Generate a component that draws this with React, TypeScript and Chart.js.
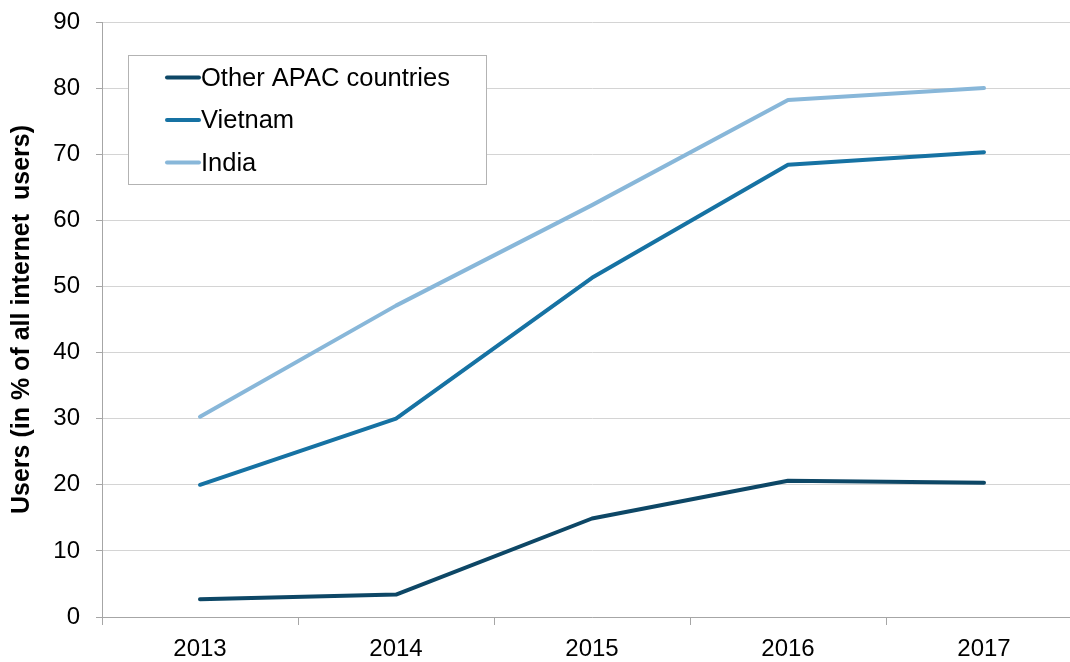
import React, { useEffect, useRef } from "react";
import { Chart, registerables } from "chart.js";

Chart.register(...registerables);

const categories = ["2013", "2014", "2015", "2016", "2017"];
const otherApac = [2.7, 3.4, 14.9, 20.6, 20.3];
const vietnam = [20.0, 30.0, 51.3, 68.4, 70.3];
const india = [30.3, 47.1, 62.3, 78.2, 80.0];
const seriesLabels = ["Other APAC countries", "Vietnam", "India"];
const seriesColors = ["#0d4766", "#1672a3", "#88b7d9"];
const yMin = 0;
const yMax = 90;
const yStep = 10;
const yTitle = "Users (in % of all internet  users)";

const FONT = "'Liberation Sans', Arial, Helvetica, sans-serif";

const boxLegend = {
  id: "boxLegend",
  afterDraw(chart: any) {
    const { ctx, chartArea } = chart;
    const x0 = chartArea.left + 26;
    const y0 = chartArea.top + 33;
    const w = 358;
    const h = 129;
    ctx.save();
    ctx.fillStyle = "#ffffff";
    ctx.fillRect(x0, y0, w, h);
    ctx.strokeStyle = "#b3b3b3";
    ctx.lineWidth = 1;
    ctx.strokeRect(x0 + 0.5, y0 + 0.5, w, h);
    ctx.font = `25.5px ${FONT}`;
    ctx.textBaseline = "middle";
    ctx.textAlign = "left";
    chart.data.datasets.forEach((ds: any, i: number) => {
      const cy = y0 + 22.5 + i * 42.5;
      ctx.strokeStyle = ds.borderColor;
      ctx.lineWidth = 4;
      ctx.lineCap = "round";
      ctx.beginPath();
      ctx.moveTo(x0 + 39, cy);
      ctx.lineTo(x0 + 71, cy);
      ctx.stroke();
      ctx.fillStyle = "#000000";
      ctx.fillText(ds.label, x0 + 73, cy + 1);
    });
    ctx.restore();
  },
};

export default function App() {
  const ref = useRef<HTMLCanvasElement | null>(null);
  useEffect(() => {
    if (!ref.current) return;
    const seriesData = [otherApac, vietnam, india];
    const chart = new Chart(ref.current, {
      type: "line",
      data: {
        labels: categories,
        datasets: seriesData.map((d, i) => ({
          label: seriesLabels[i],
          data: d,
          borderColor: seriesColors[i],
          backgroundColor: seriesColors[i],
          borderWidth: 4,
          pointRadius: 0,
          pointHoverRadius: 0,
          tension: 0,
          fill: false,
          borderCapStyle: "round",
          borderJoinStyle: "round",
        })),
      },
      options: {
        responsive: false,
        animation: false,
        events: [],
        layout: { padding: { top: 22, right: 8, left: 0, bottom: 0 } },
        plugins: {
          legend: { display: false },
          tooltip: { enabled: false },
          title: { display: false },
        },
        scales: {
          x: {
            offset: true,
            afterFit: (s: any) => {
              s.height = 45;
            },
            grid: {
              offset: true,
              drawOnChartArea: false,
              drawTicks: true,
              tickLength: 8,
              tickColor: "#a6a6a6",
            },
            border: { color: "#a6a6a6", width: 1 },
            ticks: {
              color: "#000000",
              padding: 10,
              font: { family: FONT, size: 24 },
              maxRotation: 0,
            },
          },
          y: {
            min: yMin,
            max: yMax,
            afterFit: (s: any) => {
              s.width = 102;
              s.paddingTop = 0;
              s.paddingBottom = 0;
            },
            grid: {
              color: "#d4d4d4",
              tickColor: "#a6a6a6",
              tickLength: 6,
            },
            border: { color: "#a6a6a6", width: 1 },
            ticks: {
              stepSize: yStep,
              color: "#000000",
              padding: 16,
              font: { family: FONT, size: 24 },
            },
            title: {
              display: true,
              text: yTitle,
              color: "#000000",
              font: { family: FONT, size: 25, weight: "bold" },
              padding: { top: 7, bottom: 0 },
            },
          },
        },
      },
      plugins: [boxLegend],
    });
    return () => chart.destroy();
  }, []);

  return (
    <div
      style={{
        position: "absolute",
        left: 0,
        top: 0,
        width: 1070,
        height: 662,
        overflow: "hidden",
        background: "#ffffff",
      }}
    >
      <canvas ref={ref} width={1090} height={662} style={{ display: "block" }} />
    </div>
  );
}
